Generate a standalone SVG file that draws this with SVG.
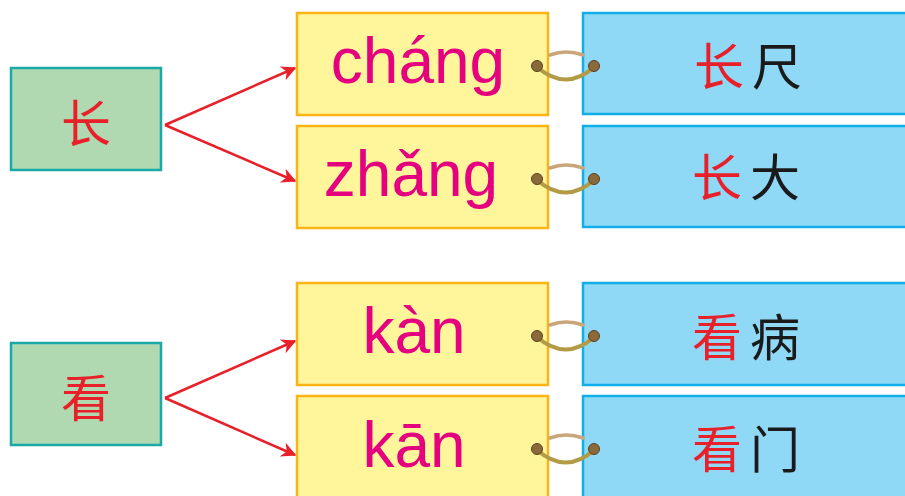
<svg xmlns="http://www.w3.org/2000/svg" width="905" height="496" viewBox="0 0 905 496">
<defs>
<style>
.g{fill:#b0d9b1;stroke:#1aa9a6;stroke-width:2.5}
.y{fill:#fff59b;stroke:#fbb416;stroke-width:2.5}
.b{fill:#8fd8f6;stroke:#12aee9;stroke-width:2.5}
.py{font-family:"Liberation Sans","DejaVu Sans",sans-serif;font-size:64px;fill:#e4007f;text-anchor:middle}
.hz{font-family:"Noto Sans CJK SC",sans-serif;font-size:50px;text-anchor:middle}
.sp{letter-spacing:8px}
.r{fill:#e8202a}
.k{fill:#1a1a1a}
.arr{stroke:#e8202a;stroke-width:2.5;fill:none}
.back{stroke:#c9a57a;stroke-width:3.5;fill:none;stroke-linecap:round}
.front{stroke:#b39a45;stroke-width:4;fill:none;stroke-linecap:round}
.bead{fill:#8a6a3a;stroke:#5a4020;stroke-width:1}
</style>
<marker id="ah" viewBox="0 0 10 10" refX="9" refY="5" markerWidth="7" markerHeight="6" orient="auto" markerUnits="strokeWidth">
<path d="M0,0 L10,5 L0,10 L3,5 Z" fill="#e8202a"/>
</marker>
<g id="ring">
<path class="back" d="M550,55 Q566,49 583,55"/>
<path class="front" d="M537,67 Q566,92 594,67"/>
<circle class="bead" cx="537" cy="66" r="5.5"/>
<circle class="bead" cx="594" cy="66" r="5.5"/>
</g>
</defs>

<g id="connectors">
<path class="arr" marker-end="url(#ah)" d="M165,125 L295,68"/>
<path class="arr" marker-end="url(#ah)" d="M165,125 L295,181"/>
<path class="arr" marker-end="url(#ah)" d="M165,398 L295,341"/>
<path class="arr" marker-end="url(#ah)" d="M165,398 L295,455"/>
</g>

<g id="node-zhang-root">
<rect class="g" x="11" y="68" width="150" height="102"/>
<text class="hz r" x="86" y="142">长</text>
</g>
<g id="node-kan-root">
<rect class="g" x="11" y="343" width="150" height="102"/>
<text class="hz r" x="86" y="417">看</text>
</g>

<g id="node-chang">
<rect class="y" x="297" y="13" width="251" height="102"/>
<text class="py" x="418" y="83">cháng</text>
</g>
<g id="node-zhang">
<rect class="y" x="297" y="126" width="251" height="102"/>
<text class="py" x="411" y="196">zhǎng</text>
</g>
<g id="node-kan4">
<rect class="y" x="297" y="283" width="251" height="102"/>
<text class="py" x="414" y="353">kàn</text>
</g>
<g id="node-kan1">
<rect class="y" x="297" y="396" width="251" height="110"/>
<text class="py" x="414" y="467">kān</text>
</g>

<g id="node-changchi">
<rect class="b" x="583" y="13" width="330" height="101"/>
<text class="hz sp" x="752" y="85"><tspan class="r">长</tspan><tspan class="k">尺</tspan></text>
</g>
<g id="node-zhangda">
<rect class="b" x="583" y="126" width="330" height="101"/>
<text class="hz sp" x="750" y="196"><tspan class="r">长</tspan><tspan class="k">大</tspan></text>
</g>
<g id="node-kanbing">
<rect class="b" x="583" y="283" width="330" height="102"/>
<text class="hz sp" x="750" y="356"><tspan class="r">看</tspan><tspan class="k">病</tspan></text>
</g>
<g id="node-kanmen">
<rect class="b" x="583" y="396" width="330" height="110"/>
<text class="hz sp" x="750" y="468"><tspan class="r">看</tspan><tspan class="k">门</tspan></text>
</g>

<g id="rings">
<use href="#ring"/>
<use href="#ring" y="113"/>
<use href="#ring" y="270"/>
<use href="#ring" y="383"/>
</g>
</svg>
